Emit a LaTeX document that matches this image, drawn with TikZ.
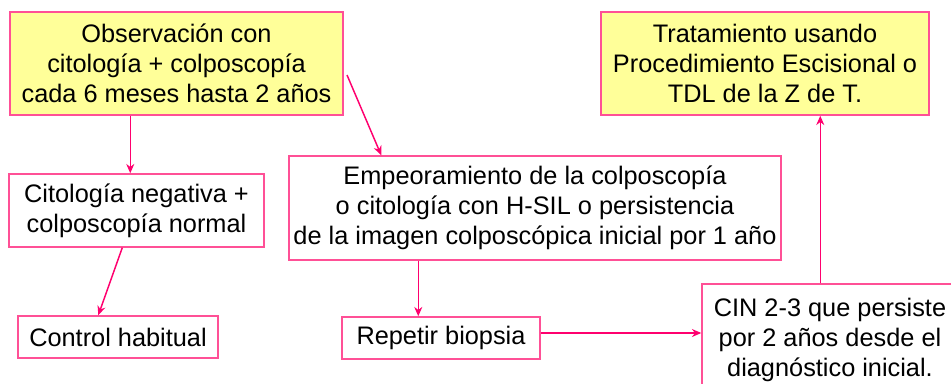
\documentclass[tikz,border=0pt]{standalone}
\usepackage{fontspec}
\setmainfont{Liberation Sans}
\usetikzlibrary{calc,arrows.meta}
\definecolor{rosa}{RGB}{255,80,150}
\definecolor{flecha}{RGB}{255,0,110}
\definecolor{amarillo}{RGB}{255,255,153}
\begin{document}
\begin{tikzpicture}[>={Stealth[length=7pt,width=6pt]},x=0.75pt,y=-0.75pt,
    font=\fontsize{19pt}{22.5pt}\selectfont,
    caja/.style={draw=rosa,line width=1.1pt,align=center,inner sep=0pt},
    cajaam/.style={caja,fill=amarillo},
    arr/.style={->,draw=flecha,fill=flecha,line width=1.1pt}]
    \clip (0,0) rectangle (951,383);
    % cajas
    \node[cajaam,minimum width=333*0.75pt,minimum height=103*0.75pt] (obs) at (176.5,63.5)
        {Observación con\\citología + colposcopía\\cada 6 meses hasta 2 años};
    \node[cajaam,minimum width=328*0.75pt,minimum height=103*0.75pt] (trat) at (765,63.5)
        {Tratamiento usando\\Procedimiento Escisional o\\TDL de la Z de T.};
    \node[caja,minimum width=255*0.75pt,minimum height=73*0.75pt] (neg) at (136.5,210.5)
        {Citología negativa +\\colposcopía normal};
    \node[caja,minimum width=492*0.75pt,minimum height=104*0.75pt] (emp) at (535,208)
        {Empeoramiento de la colposcopía\\o citología con H-SIL o persistencia\\de la imagen colposcópica inicial por 1 año};
    \node[caja,minimum width=200*0.75pt,minimum height=42*0.75pt] (ctrl) at (118,337)
        {Control habitual};
    \node[caja,minimum width=198*0.75pt,minimum height=42*0.75pt] (rep) at (441,338)
        {Repetir biopsia};
    \node[caja,minimum width=256*0.75pt,minimum height=112*0.75pt] (cin) at (830,340)
        {CIN 2-3 que persiste\\por 2 años desde el\\diagnóstico inicial.};
    \coordinate (ini) at (347,75);
    \coordinate (sal) at ($(rep.east)+(0,-5)$);
    % flechas
    \draw[arr] ($(obs.south west)+(121,0)$) -- ($(neg.north west)+(122,0)$);
    \draw[arr] (ini) -- ($(emp.north west)+(93,0)$);
    \draw[arr] ($(neg.south west)+(114,0)$) -- ($(ctrl.north west)+(81,0)$);
    \draw[arr] ($(emp.south west)+(130,0)$) -- ($(rep.north west)+(77,0)$);
    \draw[arr] (sal) -- (sal -| cin.west);
    \draw[arr] ($(cin.north west)+(119,0)$) -- ($(trat.south west)+(220,0)$);
\end{tikzpicture}
\end{document}
